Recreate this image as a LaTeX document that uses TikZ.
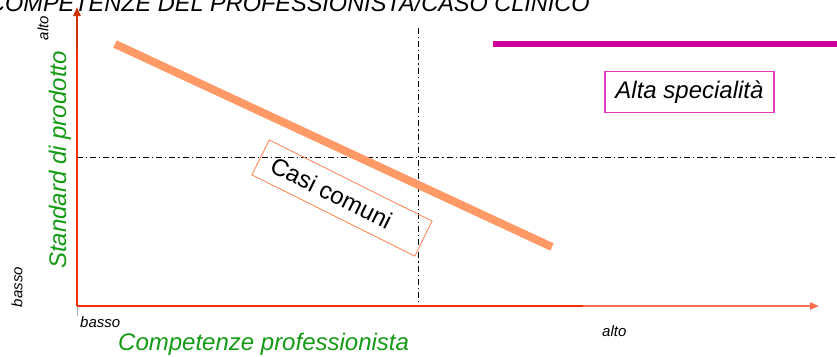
\documentclass[tikz,border=0pt]{standalone}
\usepackage{fontspec}
\setmainfont{Liberation Sans}
\usetikzlibrary{arrows.meta}
\definecolor{axred}{RGB}{240,48,0}
\definecolor{axlight}{RGB}{255,110,80}
\definecolor{axdark}{RGB}{204,51,0}
\definecolor{thickorange}{RGB}{255,153,102}
\definecolor{boxorange}{RGB}{255,140,90}
\definecolor{magline}{RGB}{204,0,153}
\definecolor{magbox}{RGB}{225,60,190}
\definecolor{labgreen}{RGB}{20,155,20}
\tikzset{
  dashdot/.style={black, line width=1pt, dash pattern=on 6pt off 3pt on 1.2pt off 3pt},
  biglabel/.style={font=\fontsize{24}{27}\selectfont\itshape, inner sep=0pt},
  smalllabel/.style={font=\fontsize{15}{17}\selectfont\itshape, inner sep=0pt},
  axis/.style={axred, line width=2.4pt},
  tip/.style={-{Triangle[length=9pt,width=7pt]}},
}
\begin{document}
\begin{tikzpicture}[x=1pt,y=-1pt]
\useasboundingbox (0,0) rectangle (837,356);
\begin{scope}
\clip (0,0) rectangle (837,356);
\node[inner sep=0pt, anchor=base west, font=\fontsize{23.5}{26}\selectfont\itshape] (title) at (-12,12) {COMPETENZE DEL PROFESSIONISTA/CASO CLINICO};
\end{scope}
% coordinates
\coordinate (origin) at (77,306);
\coordinate (ytop) at (77,7);
\coordinate (ybot) at (77,316);
\coordinate (xmid) at (583,306);
\coordinate (xend) at (819,306);
\coordinate (vtop) at (418,28);
\coordinate (vbot) at (418,306);
\coordinate (hleft) at (77,157);
\coordinate (hright) at (837,157);
\coordinate (oa) at (115,44);
\coordinate (ob) at (552,247);
\coordinate (ma) at (493,44);
\coordinate (mb) at (837,44);
% guides
\draw[dashdot] (vtop) -- (vbot);
\draw[dashdot] (hleft) -- (hright);
% axes
\draw[gray!60, line width=1pt] (origin) -- (ybot);
\draw[axis, tip, axdark] (origin) -- (ytop);
\draw[axis] (origin |- 0,50) -- (origin);
\draw[axis] (origin) -- (xmid);
\draw[axis, axlight, tip] (xmid) -- (xend);
% thick lines
\draw[thickorange, line width=8pt] (oa) -- (ob);
\draw[magline, line width=6pt] (ma) -- (mb);
% boxes
\node[draw=boxorange, line width=0.9pt, rotate=-26.5, minimum width=182pt, minimum height=39pt, inner sep=0pt] (casi) at (342,198) {};
\node[rotate=-26.5, inner sep=0pt, font=\fontsize{24}{27}\selectfont] (casitext) at (331.5,193) {Casi comuni};
\node[draw=magbox, line width=1.2pt, fill=white, minimum width=169pt, minimum height=41pt, inner sep=0pt, biglabel] (alta) at (689.5,92) {Alta specialità};
% axis labels
\node[biglabel, labgreen, rotate=90] (ylab) at (60,160) {Standard di prodotto};
\node[biglabel, labgreen, anchor=base west] (xlab) at (118,350) {Competenze professionista};
\node[smalllabel, rotate=90] (yhi) at (43,28) {alto};
\node[smalllabel, rotate=90] (ylo) at (17,287) {basso};
\node[smalllabel, anchor=base west] (xlo) at (80,327) {basso};
\node[smalllabel, anchor=base west] (xhi) at (602,336) {alto};
\end{tikzpicture}
\end{document}
